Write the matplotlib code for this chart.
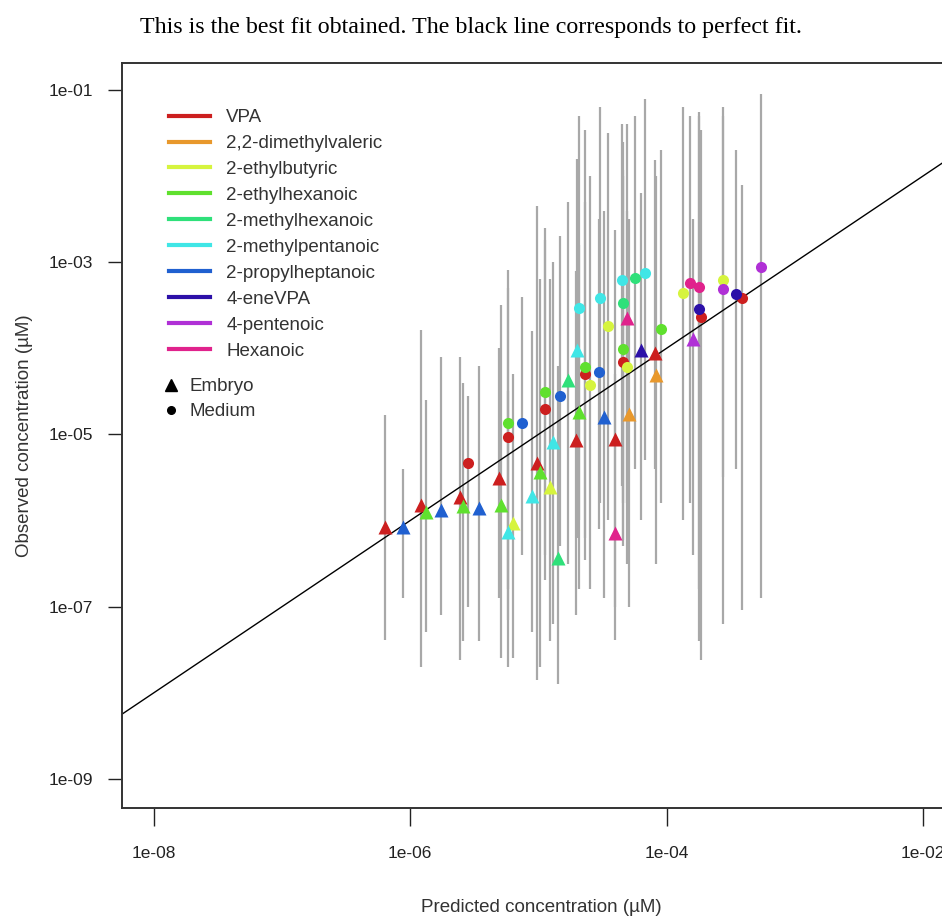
import numpy as np
import matplotlib.pyplot as plt
from matplotlib.lines import Line2D
from matplotlib.ticker import NullLocator

compounds = [
    "VPA", "2,2-dimethylvaleric", "2-ethylbutyric", "2-ethylhexanoic",
    "2-methylhexanoic", "2-methylpentanoic", "2-propylheptanoic",
    "4-eneVPA", "4-pentenoic", "Hexanoic",
]
compound_colors = [
    "#cc1f1f", "#e8982c", "#d6f43e", "#5fe02e", "#2fe07a",
    "#40e6e6", "#2060d0", "#2c10a8", "#b030d6", "#e0228c",
]

# one entry per fitted observation (values are log10 of concentration, uM)
compound_id = [0, 0, 0, 0, 0, 0, 0, 0, 0, 0, 0, 0, 0, 0, 0,
               1, 1,
               2, 2, 2, 2, 2, 2, 2,
               3, 3, 3, 3, 3, 3, 3, 3, 3, 3,
               4, 4, 4, 4,
               5, 5, 5, 5, 5, 5, 5, 5,
               6, 6, 6, 6, 6, 6, 6,
               7, 7, 7,
               8, 8, 8,
               9, 9, 9, 9]
tissue = ["E", "E", "E", "E", "E", "E", "E", "E", "M", "M", "M", "M", "M", "M", "M",
          "E", "E",
          "E", "E", "M", "M", "M", "M", "M",
          "E", "E", "E", "E", "E", "M", "M", "M", "M", "M",
          "E", "E", "M", "M",
          "E", "E", "E", "E", "M", "M", "M", "M",
          "E", "E", "E", "E", "M", "M", "M",
          "E", "M", "M",
          "E", "M", "M",
          "E", "E", "M", "M"]
pred_log = [-6.20, -5.92, -5.61, -5.31, -5.01, -4.71, -4.40, -4.09, -5.55, -5.24, -4.95, -4.64, -4.34, -3.73, -3.41,
            -4.29, -4.08,
            -5.20, -4.91, -4.60, -4.46, -4.31, -3.87, -3.56,
            -5.88, -5.59, -5.29, -4.99, -4.68, -5.24, -4.95, -4.64, -4.34, -4.04,
            -4.85, -4.77, -4.34, -4.25,
            -5.24, -5.05, -4.89, -4.70, -4.68, -4.52, -4.35, -4.17,
            -6.06, -5.76, -5.46, -4.49, -5.13, -4.83, -4.53,
            -4.20, -3.75, -3.46,
            -3.79, -3.56, -3.26,
            -4.40, -4.31, -3.82, -3.75]
obs_log = [-6.08, -5.82, -5.73, -5.51, -5.33, -5.07, -5.05, -4.05, -5.33, -5.03, -4.70, -4.30, -4.16, -3.64, -3.42,
           -4.76, -4.31,
           -6.03, -5.61, -4.43, -3.74, -4.22, -3.36, -3.21,
           -5.90, -5.83, -5.82, -5.44, -4.74, -4.87, -4.51, -4.22, -4.01, -3.78,
           -6.44, -4.37, -3.47, -3.18,
           -6.13, -5.72, -5.09, -4.02, -3.53, -3.42, -3.21, -3.13,
           -6.08, -5.88, -5.85, -4.80, -4.87, -4.55, -4.28,
           -4.02, -3.54, -3.37,
           -3.89, -3.31, -3.06,
           -6.15, -3.65, -3.24, -3.29]
obs_lo_log = [-7.39, -7.70, -7.62, -6.90, -7.85, -7.10, -7.39, -5.40, -7.00, -7.16, -6.69, -6.46, -6.23, -7.62, -7.04,
              -7.00, -6.50,
              -7.60, -7.40, -6.80, -6.00, -6.50, -6.00, -5.50,
              -7.30, -7.40, -7.60, -7.70, -6.80, -6.80, -6.40, -6.20, -6.30, -5.80,
              -7.90, -6.50, -5.80, -5.40,
              -7.70, -7.30, -7.20, -6.20, -6.00, -5.80, -5.60, -5.30,
              -6.90, -7.10, -7.40, -6.90, -6.40, -6.30, -6.10,
              -6.00, -6.80, -5.40,
              -6.40, -7.20, -6.90,
              -7.00, -5.80, -5.80, -7.40]
obs_hi_log = [-4.77, -3.79, -4.10, -4.00, -2.35, -3.10, -2.63, -1.81, -4.55, -3.09, -2.74, -1.46, -1.93, -1.46, -2.10,
              -2.50, -2.00,
              -4.30, -3.20, -2.00, -1.50, -2.40, -1.20, -1.30,
              -4.60, -4.40, -3.50, -3.20, -2.80, -3.30, -2.60, -2.30, -2.00, -1.70,
              -4.20, -2.30, -1.60, -1.30,
              -4.50, -3.80, -3.00, -1.80, -1.30, -1.20, -1.40, -1.10,
              -5.40, -4.10, -4.20, -2.40, -3.40, -2.70, -2.50,
              -2.20, -1.30, -1.70,
              -2.50, -1.20, -1.05,
              -4.30, -1.40, -1.30, -1.25]

x_ticks = [1e-8, 1e-6, 1e-4, 1e-2]
x_tick_labels = ["1e-08", "1e-06", "1e-04", "1e-02"]
y_ticks = [1e-9, 1e-7, 1e-5, 1e-3, 1e-1]
y_tick_labels = ["1e-09", "1e-07", "1e-05", "1e-03", "1e-01"]

plt.rcParams["font.family"] = ["Liberation Sans", "DejaVu Sans"]

pred = 10 ** np.array(pred_log)
obs = 10 ** np.array(obs_log)
lo = 10 ** np.array(obs_lo_log)
hi = 10 ** np.array(obs_hi_log)
cid = np.array(compound_id)
tis = np.array(tissue)

fig = plt.figure(figsize=(9.42, 9.19), dpi=100)
ax = fig.add_axes([122 / 942, 111 / 919, 838 / 942, 745 / 919])
ax.set_xscale("log")
ax.set_yscale("log")
ax.set_xlim(10 ** -8.25, 10 ** -1.71)
ax.set_ylim(10 ** -9.34, 10 ** -0.686)

# uncertainty of the observations
ax.vlines(pred, lo, hi, color="#a8a8a8", lw=1.6, zorder=1)

# perfect fit
ax.plot([1e-10, 1.0], [1e-10, 1.0], color="black", lw=1.0, zorder=2)

for i, col in enumerate(compound_colors):
    emb = (cid == i) & (tis == "E")
    med = (cid == i) & (tis == "M")
    ax.plot(pred[emb], obs[emb], ls="none", marker="^", ms=9.5, color=col,
            mec="none", zorder=3)
    ax.plot(pred[med], obs[med], ls="none", marker="o", ms=8, color=col,
            mec="none", zorder=3)

ax.set_xticks(x_ticks)
ax.set_xticklabels(x_tick_labels)
ax.set_yticks(y_ticks)
ax.set_yticklabels(y_tick_labels)
ax.xaxis.set_minor_locator(NullLocator())
ax.yaxis.set_minor_locator(NullLocator())
ax.tick_params(axis="x", length=13, width=1, pad=14, labelsize=12.5, colors="#222222")
ax.tick_params(axis="y", length=10, width=1, pad=11, labelsize=12.5, colors="#222222")

for side in ["left", "bottom", "top"]:
    ax.spines[side].set_color("#333333")
    ax.spines[side].set_linewidth(1.4)
ax.spines["right"].set_visible(False)

ax.set_xlabel("Predicted concentration (\u00b5M)", fontsize=13.5, labelpad=28, color="#333333")
ax.set_ylabel("Observed concentration (\u00b5M)", fontsize=13.5, labelpad=11, color="#333333")

fig.text(0.5, 1 - 28 / 919,
         "This is the best fit obtained. The black line corresponds to perfect fit.",
         family=["Liberation Serif", "DejaVu Serif"], fontsize=17.3,
         ha="center", va="center")

handles = [Line2D([0], [0], color=c, lw=3) for c in compound_colors]
leg1 = ax.legend(handles, compounds, loc="upper left",
                 bbox_to_anchor=(169 / 942, 1 - 109 / 919), bbox_transform=fig.transFigure,
                 frameon=False, fontsize=13.5, handlelength=2.2, handletextpad=0.85,
                 labelspacing=0.47, borderpad=0, borderaxespad=0)
for t in leg1.get_texts():
    t.set_color("#333333")
ax.add_artist(leg1)

shape_handles = [
    Line2D([0], [0], ls="none", marker="^", ms=8, color="black"),
    Line2D([0], [0], ls="none", marker="o", ms=5.5, color="black"),
]
leg2 = ax.legend(shape_handles, ["Embryo", "Medium"], loc="upper left",
                 bbox_to_anchor=(162 / 942, 1 - 378 / 919), bbox_transform=fig.transFigure,
                 frameon=False, fontsize=13.5, handlelength=1.0, handletextpad=0.45,
                 labelspacing=0.42, borderpad=0, borderaxespad=0)
for t in leg2.get_texts():
    t.set_color("#333333")

fig.savefig("out.png", dpi=100)
